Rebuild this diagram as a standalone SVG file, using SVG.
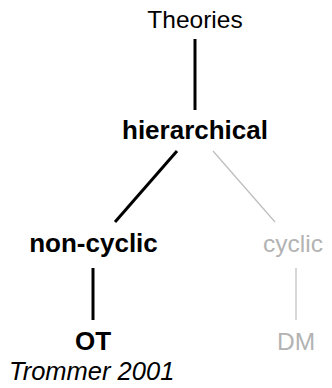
<svg xmlns="http://www.w3.org/2000/svg" width="332" height="388" viewBox="0 0 332 388">
  <style>
    text { font-family: "Liberation Sans", Arial, sans-serif; text-anchor: middle; }
    .reg { font-size: 24.5px; fill: #000; }
    .bold { font-size: 26px; font-weight: bold; fill: #000; }
    .dim { font-size: 24.5px; fill: #b3b3b3; }
    .cite { font-size: 25.5px; font-style: italic; fill: #000; text-anchor: start; }
    .on { stroke: #000; stroke-width: 3; fill: none; }
    .off { stroke: #bdbdbd; stroke-width: 1.2; fill: none; }
  </style>
  <rect width="332" height="388" fill="#fff"/>
  <g id="connectors">
    <line class="on" x1="195" y1="39" x2="195" y2="110"/>
    <line class="on" x1="177" y1="151" x2="115" y2="222"/>
    <line class="off" x1="213" y1="151" x2="275" y2="222"/>
    <line class="on" x1="93" y1="268" x2="93" y2="320"/>
    <line class="off" x1="296" y1="268" x2="296" y2="320"/>
  </g>
  <g id="theories"><text class="reg" x="195" y="28">Theories</text></g>
  <g id="hierarchical"><text class="bold" x="195" y="139">hierarchical</text></g>
  <g id="non-cyclic"><text class="bold" x="93.5" y="252">non-cyclic</text></g>
  <g id="cyclic"><text class="dim" x="293" y="252">cyclic</text></g>
  <g id="ot"><text class="bold" x="93" y="350">OT</text></g>
  <g id="dm"><text class="dim" x="296" y="350">DM</text></g>
  <g id="citation"><text class="cite" x="9" y="380">Trommer 2001</text></g>
</svg>
